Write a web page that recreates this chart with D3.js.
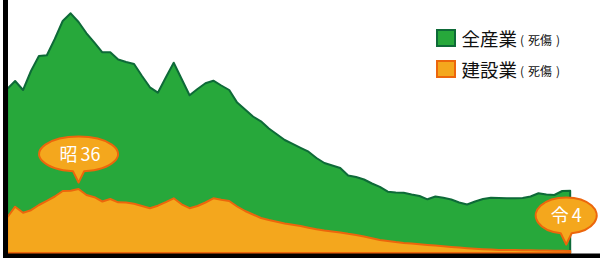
<!DOCTYPE html>
<html>
<head>
<meta charset="utf-8">
<script src="https://cdn.jsdelivr.net/npm/d3@7"></script>
<style>
  html, body { margin: 0; padding: 0; background: #fff; }
  svg { display: block; font-family: "Noto Sans CJK JP", "Noto Sans", sans-serif; }
</style>
</head>
<body>
<div id="chart"></div>
<script>
// years shown on the x axis (昭27 .. end of series)
var years = d3.range(1952, 2024);

// 全産業 (死傷) per year
var allIndustry = [
  328000, 344000, 326000, 364000, 394000, 395400, 428000, 464000, 479400, 462000,
  439400, 420600, 401400, 401400, 387000, 382000, 378000, 354000, 331400, 320600,
  351000, 380600, 348000, 315400, 328000, 339400, 344600, 335000, 326000, 300800,
  287000, 273000, 263400, 249000, 237600, 226000, 218400, 210400, 202600, 190000,
  180000, 175000, 170000, 155000, 152000, 147000, 139000, 132400, 122600, 121000,
  120400, 117000, 114000, 107400, 113000, 110400, 107000, 101000, 97000, 103000,
  108000, 110600, 110000, 109400, 109400, 110000, 113000, 119400, 117000, 116000,
  124000, 124600
];

// 建設業 (死傷) per year
var construction = [
  71000, 92600, 80600, 85600, 96000, 104400, 113000, 124000, 124600, 128000,
  116000, 111600, 103000, 108000, 101400, 100800, 98400, 94000, 89400, 94600,
  101600, 109400, 97400, 89600, 94000, 101000, 109400, 106400, 104000, 93000,
  84000, 77000, 70000, 66000, 62400, 59000, 56400, 53800, 50600, 47400,
  45000, 43200, 41200, 38400, 36000, 33000, 29400, 26000, 24000, 21800,
  20000, 18800, 17400, 16000, 14800, 13400, 12000, 10800, 9600, 8600,
  7600, 6800, 6000, 6000, 5800, 5600, 5400, 5000, 4800, 4600,
  4400, 4000
];

var seriesNames = ["全産業", "建設業"];
var seriesNote = ["(", "死傷", ")"];

// callouts: era prefix + number, and the year each one points at
var calloutEra = ["昭", "令"];
var calloutNum = ["36", "4"];
var calloutYears = [1961, 2023];

var width = 600, height = 259;

var colors = {
  green: "#27a83b", greenLine: "#0e6a38",
  orange: "#f4a71d", orangeLine: "#ec660c"
};

var svg = d3.select("#chart").append("svg")
  .attr("width", width)
  .attr("height", height);

var x = d3.scaleLinear().domain([years[0], years[years.length - 1]]).range([7.2, 570.2]);
var y = d3.scaleLinear().domain([0, 500000]).range([253, 3]);

function areaFor(values) {
  return d3.area()
    .x(function(d, i) { return x(years[i]); })
    .y0(y(0))
    .y1(function(d) { return y(d); })(values);
}

svg.append("path")
  .attr("d", areaFor(allIndustry))
  .attr("fill", colors.green)
  .attr("stroke", colors.greenLine)
  .attr("stroke-width", 2)
  .attr("stroke-linejoin", "round");

svg.append("path")
  .attr("d", areaFor(construction))
  .attr("fill", colors.orange)
  .attr("stroke", colors.orangeLine)
  .attr("stroke-width", 2)
  .attr("stroke-linejoin", "round");

// axes: thick black lines left and bottom
svg.append("rect").attr("x", 3).attr("y", 0).attr("width", 5).attr("height", 258).attr("fill", "#000");
svg.append("rect").attr("x", 3).attr("y", 253.5).attr("width", width - 3).attr("height", 4.5).attr("fill", "#000");

// legend
var legend = svg.append("g").attr("transform", "translate(436,29)");
var legendItems = legend.selectAll("g").data(seriesNames).enter().append("g")
  .attr("transform", function(d, i) { return "translate(0," + (i * 31) + ")"; });

legendItems.append("rect")
  .attr("x", 1).attr("y", 1).attr("width", 18).attr("height", 16)
  .attr("fill", function(d, i) { return i === 0 ? colors.green : colors.orange; })
  .attr("stroke", function(d, i) { return i === 0 ? colors.greenLine : colors.orangeLine; })
  .attr("stroke-width", 2);

var legendText = legendItems.append("text")
  .attr("x", 25.5).attr("y", 16.5)
  .attr("fill", "#111")
  .style("font-size", "18.5px");
legendText.append("tspan").text(function(d) { return d; });
legendText.append("tspan").attr("dx", 3).attr("dy", -1).style("font-size", "12px").text(seriesNote[0]);
legendText.append("tspan").attr("dx", 4).style("font-size", "12px").text(seriesNote[1]);
legendText.append("tspan").attr("dx", 4).style("font-size", "12px").text(seriesNote[2]);

// callout bubbles
var bubbleSizes = [{ rx: 39.5, ry: 17.5, dx: 1.5, tipDx: 0 }, { rx: 30.5, ry: 18, dx: 0, tipDx: -4 }];

calloutEra.forEach(function(era, k) {
  var idx = years.indexOf(calloutYears[k]);
  var s = bubbleSizes[k];
  var tipX = x(years[idx]) + s.tipDx;
  var tipY = y(construction[idx]) - 6.5;
  var cx = tipX + s.dx;
  var cy = tipY - 11 - s.ry;
  var off = Math.sqrt(1 - Math.pow(5.5 / s.rx, 2)) * s.ry;
  var d = "M" + (tipX - 5.5) + "," + (cy + off) +
    " A" + s.rx + "," + s.ry + " 0 1 1 " + (tipX + 5.5) + "," + (cy + off) +
    " L" + tipX + "," + tipY + " Z";
  var g = svg.append("g");
  g.append("path")
    .attr("d", d)
    .attr("fill", colors.orange)
    .attr("stroke", colors.orangeLine)
    .attr("stroke-width", 2)
    .attr("stroke-linejoin", "round");
  var t = g.append("text")
    .attr("x", cx).attr("y", cy + 6.5)
    .attr("text-anchor", "middle")
    .attr("fill", "#fff")
    .style("font-size", "18px");
  t.append("tspan").text(era);
  t.append("tspan").attr("dx", 3).text(calloutNum[k]);
});
</script>
</body>
</html>
